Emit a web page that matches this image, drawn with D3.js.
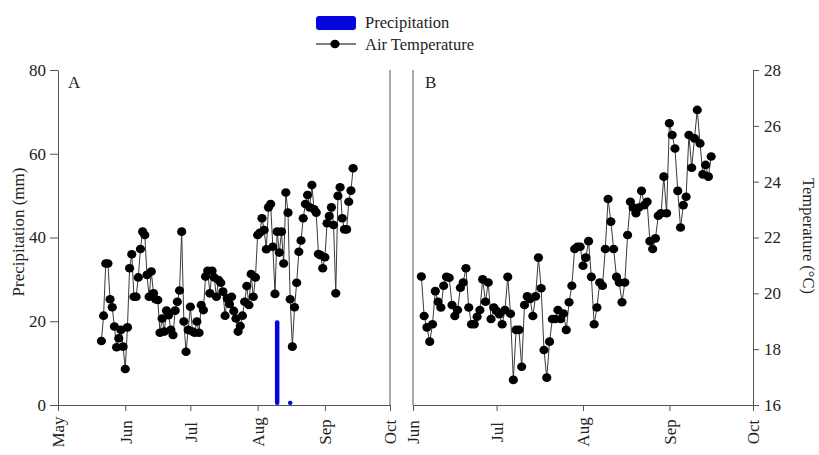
<!DOCTYPE html>
<html>
<head>
<meta charset="utf-8">
<script src="https://cdn.jsdelivr.net/npm/d3@7"></script>
<style>
  body { margin: 0; background: #fff; }
  svg text { font-family: "Liberation Serif", "Times New Roman", serif; fill: #222; }
</style>
</head>
<body>
<svg id="chart" width="819" height="455"></svg>
<script>
// daily air temperature, panel A starts 21 May, panel B starts 4 Jun
const startA = '2015-05-21'
const tempA = [
  18.29, 19.20, 21.07, 21.07, 19.79, 19.50, 18.81, 18.07, 18.39, 18.69,
  18.09, 17.29, 18.78, 20.90, 21.40, 19.88, 19.88, 20.57, 21.59, 22.21,
  22.09, 20.66, 19.88, 20.78, 20.00, 19.79, 19.76, 18.59, 19.10, 18.63,
  19.38, 19.22, 18.69, 18.51, 19.38, 19.70, 20.10, 22.21, 18.99, 17.91,
  18.69, 19.52, 18.63, 18.59, 18.99, 18.59, 19.58, 19.40, 20.60, 20.81,
  20.00, 20.81, 20.57, 19.88, 20.48, 20.38, 20.06, 19.20, 19.82, 19.62,
  19.88, 19.37, 19.10, 18.63, 18.83, 19.20, 19.70, 20.26, 19.58, 20.69,
  19.88, 20.57, 22.09, 22.17, 22.69, 22.27, 21.58, 23.08, 23.20, 21.67,
  19.98, 22.21, 21.46, 22.21, 21.07, 23.61, 22.89, 19.79, 18.09, 19.50,
  20.38, 21.49, 21.89, 22.69, 23.20, 23.52, 23.08, 23.88, 23.01, 22.89,
  21.41, 21.37, 20.90, 21.29, 22.51, 22.77, 23.08, 22.45, 20.00, 23.49,
  23.80, 22.69, 22.29, 22.29, 23.28, 23.68, 24.48
]

const startB = '2016-06-04'
const tempB = [
  20.60, 19.19, 18.78, 18.27, 18.89, 20.08, 19.70, 19.49, 20.27, 20.59,
  20.56, 19.58, 19.19, 19.40, 20.20, 20.39, 20.90, 19.49, 18.89, 18.89,
  19.16, 19.40, 20.50, 19.70, 20.39, 19.08, 19.49, 19.37, 19.25, 18.89,
  19.40, 20.59, 19.27, 16.90, 18.69, 18.69, 17.37, 19.58, 19.89, 19.80,
  19.19, 19.89, 21.28, 20.18, 17.97, 16.98, 18.27, 19.08, 19.08, 19.40,
  19.08, 19.28, 18.69, 19.68, 20.27, 21.59, 21.67, 21.67, 20.99, 21.28,
  21.87, 20.59, 18.89, 19.49, 20.39, 20.27, 21.59, 23.38, 22.57, 21.59,
  20.59, 20.39, 19.68, 20.39, 22.09, 23.28, 23.07, 22.87, 23.07, 23.67,
  23.16, 23.28, 21.87, 21.59, 21.97, 22.78, 22.87, 24.18, 22.87, 26.09,
  25.67, 25.19, 23.67, 22.36, 23.16, 23.46, 25.67, 24.50, 25.55, 26.57,
  25.37, 24.26, 24.60, 24.18, 24.90
]

// precipitation events (mm), panel A only
const rainDates = ['2015-08-10', '2015-08-16']
const rainMm = [20, 0.8]

const precipTicks = [0, 20, 40, 60, 80]
const tempTicks = [16, 18, 20, 22, 24, 26, 28]

const parse = d3.timeParse('%Y-%m-%d')
const axisColor = '#555'
const blue = '#0505e0'

const svg = d3.select('#chart')

const yP = d3.scaleLinear().domain([0, 80]).range([405, 70])
const yT = d3.scaleLinear().domain([16, 28]).range([405, 70])
const xA = d3.scaleTime().domain([new Date(2015, 4, 1), new Date(2015, 9, 1)]).range([58, 390])
const xB = d3.scaleTime().domain([new Date(2016, 5, 1), new Date(2016, 9, 1)]).range([413, 753])

function toSeries(start, temps) {
  var d0 = parse(start)
  return temps.map((t, i) => ({ date: d3.timeDay.offset(d0, i), t: t }))
}

const seriesA = toSeries(startA, tempA)
const seriesB = toSeries(startB, tempB)

function styleAxis(g) {
  g.selectAll('path, line').attr('stroke', axisColor).attr('stroke-width', 1)
  g.selectAll('text').style('font-size', '17px').attr('fill', '#222')
}

function monthAxis(x, y0) {
  var g = svg.append('g')
    .attr('transform', `translate(0,${y0})`)
    .call(d3.axisBottom(x).ticks(d3.timeMonth.every(1)).tickFormat(d3.timeFormat('%b')).tickSize(6).tickSizeOuter(0))
  styleAxis(g)
  g.selectAll('text')
    .attr('transform', 'rotate(-90)')
    .attr('x', -27)
    .attr('y', 0)
    .attr('dy', '0.35em')
    .style('text-anchor', 'middle')
  return g
}

// panel A
svg.append('g')
  .attr('transform', 'translate(58,0)')
  .call(d3.axisLeft(yP).tickValues(precipTicks).tickSize(8).tickSizeOuter(0).tickPadding(4))
  .call(styleAxis)
monthAxis(xA, 405)
svg.append('line')
  .attr('x1', xA.range()[1]).attr('x2', xA.range()[1])
  .attr('y1', yP.range()[0]).attr('y2', yP.range()[1])
  .attr('stroke', axisColor)

// panel B
monthAxis(xB, 405)
svg.append('line')
  .attr('x1', xB.range()[0]).attr('x2', xB.range()[0])
  .attr('y1', yT.range()[0]).attr('y2', yT.range()[1])
  .attr('stroke', axisColor)
svg.append('g')
  .attr('transform', 'translate(753,0)')
  .call(d3.axisRight(yT).tickValues(tempTicks).tickSize(6).tickSizeOuter(0).tickPadding(5))
  .call(styleAxis)

// precipitation bars
svg.selectAll('rect.rain')
  .data(rainDates.map((d, i) => ({ date: parse(d), mm: rainMm[i] })))
  .enter()
  .append('rect')
  .attr('class', 'rain')
  .attr('x', (d) => xA(d.date) - 2.25)
  .attr('width', 4.5)
  .attr('y', (d) => yP(d.mm) - 1)
  .attr('height', (d) => yP(0) - yP(d.mm) + 1)
  .attr('rx', 2)
  .attr('fill', blue)

function drawTemp(series, x) {
  var line = d3.line().x((d) => x(d.date)).y((d) => yT(d.t))
  svg.append('path')
    .datum(series)
    .attr('d', line)
    .attr('fill', 'none')
    .attr('stroke', '#3a3a3a')
    .attr('stroke-width', 1)
  svg.append('g')
    .selectAll('ellipse')
    .data(series)
    .enter()
    .append('ellipse')
    .attr('cx', (d) => x(d.date))
    .attr('cy', (d) => yT(d.t))
    .attr('rx', 4.6)
    .attr('ry', 4.3)
    .attr('fill', '#000')
}
drawTemp(seriesA, xA)
drawTemp(seriesB, xB)

// panel letters
svg.append('text').attr('x', 68).attr('y', 88).style('font-size', '17px').text('A')
svg.append('text').attr('x', 425).attr('y', 88).style('font-size', '17px').text('B')

// axis titles
svg.append('text')
  .attr('transform', 'translate(24,232) rotate(-90)')
  .style('text-anchor', 'middle')
  .style('font-size', '17px')
  .text('Precipitation (mm)')
svg.append('text')
  .attr('transform', 'translate(803,236) rotate(90)')
  .style('text-anchor', 'middle')
  .style('font-size', '16.5px')
  .text('Temperature (°C)')

// legend
var legend = svg.append('g')
legend.append('rect')
  .attr('x', 316).attr('y', 16).attr('width', 40).attr('height', 14).attr('rx', 3)
  .attr('fill', blue)
legend.append('text').attr('x', 365).attr('y', 28).style('font-size', '16.5px').text('Precipitation')
legend.append('line')
  .attr('x1', 316).attr('x2', 356).attr('y1', 44).attr('y2', 44)
  .attr('stroke', '#000')
legend.append('ellipse').attr('cx', 335).attr('cy', 44).attr('rx', 4.6).attr('ry', 4.3).attr('fill', '#000')
legend.append('text').attr('x', 365).attr('y', 50).style('font-size', '16.5px').text('Air Temperature')
</script>
</body>
</html>
